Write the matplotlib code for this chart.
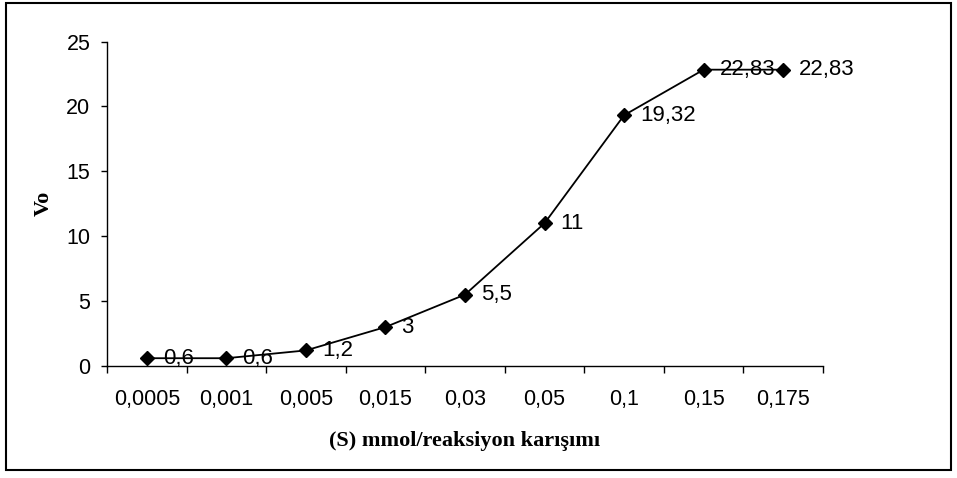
import matplotlib.pyplot as plt
from matplotlib.patches import Rectangle

# substrate concentration categories and initial velocities
categories = ['0,0005', '0,001', '0,005', '0,015', '0,03', '0,05', '0,1', '0,15', '0,175']
vo = [0.6, 0.6, 1.2, 3, 5.5, 11, 19.32, 22.83, 22.83]
point_labels = ['0,6', '0,6', '1,2', '3', '5,5', '11', '19,32', '22,83', '22,83']

fig = plt.figure(figsize=(9.57, 4.78), dpi=100)
ax = fig.add_axes([107 / 957, 1 - 366 / 478, (823 - 107) / 957, (366 - 41.5) / 478])

x = list(range(len(categories)))
ax.plot(x, vo, color='black', linewidth=1.3, marker='D', markersize=7,
        markerfacecolor='black', markeredgecolor='black', clip_on=False)

for xi, yi, lab in zip(x, vo, point_labels):
    ax.annotate(lab, (xi, yi), xytext=(11.5, 0), textcoords='offset points',
                ha='left', va='center', fontsize=16, family='Liberation Sans')

ax.set_xlim(-0.5, len(categories) - 0.5)
ax.set_ylim(0, 25)
ax.set_yticks([0, 5, 10, 15, 20, 25])
ax.set_xticks(x)
ax.set_xticklabels(categories)
ax.set_xticks([i - 0.5 for i in range(len(categories) + 1)], minor=True)

ax.tick_params(axis='x', which='major', length=0, pad=16.5, labelsize=15.5)
ax.tick_params(axis='x', which='minor', length=5, width=1, direction='out')
ax.tick_params(axis='y', length=4, width=1, direction='out', pad=8, labelsize=15.5)
for t in ax.get_xticklabels() + ax.get_yticklabels():
    t.set_family('Liberation Sans')

for s in ['top', 'right']:
    ax.spines[s].set_visible(False)
for s in ['left', 'bottom']:
    ax.spines[s].set_linewidth(1)

ax.set_xlabel('(S) mmol/reaksiyon karışımı', family='Liberation Serif', fontweight='bold',
              fontsize=16, labelpad=15)
ax.set_ylabel('Vo', family='Liberation Serif', fontweight='bold', fontsize=16, labelpad=9)

fig.add_artist(Rectangle((6 / 957, 1 - 470 / 478), (951 - 6) / 957, (470 - 3) / 478,
                         transform=fig.transFigure, fill=False, edgecolor='black', linewidth=1.5))

fig.savefig('out.png', dpi=100)
